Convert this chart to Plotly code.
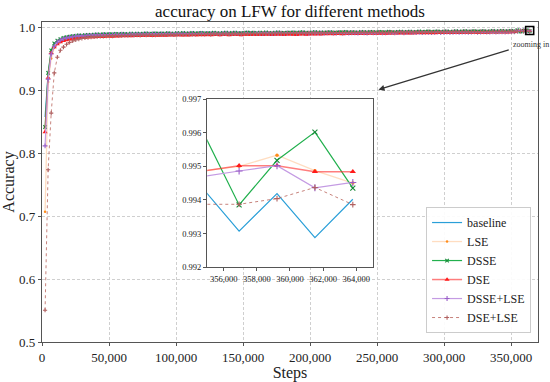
import plotly.graph_objects as go

EVAL_INTERVAL = 2288
steps = [EVAL_INTERVAL * i for i in range(1, 160)]

baseline = [
    0.8580, 0.9270, 0.9615, 0.9722, 0.9776, 0.9808, 0.9829, 0.9843, 0.9851, 0.9860,
    0.9864, 0.9871, 0.9868, 0.9876, 0.9880, 0.9877, 0.9884, 0.9886, 0.9881, 0.9889,
    0.9887, 0.9892, 0.9889, 0.9894, 0.9890, 0.9896, 0.9893, 0.9891, 0.9897, 0.9895,
    0.9899, 0.9894, 0.9898, 0.9902, 0.9896, 0.9900, 0.9903, 0.9897, 0.9901, 0.9899,
    0.9904, 0.9900, 0.9898, 0.9905, 0.9902, 0.9907, 0.9901, 0.9904, 0.9908, 0.9903,
    0.9906, 0.9910, 0.9904, 0.9908, 0.9905, 0.9911, 0.9907, 0.9903, 0.9909, 0.9912,
    0.9906, 0.9910, 0.9913, 0.9908, 0.9905, 0.9911, 0.9914, 0.9909, 0.9912, 0.9907,
    0.9913, 0.9910, 0.9915, 0.9911, 0.9908, 0.9914, 0.9917, 0.9912, 0.9910, 0.9915,
    0.9913, 0.9918, 0.9911, 0.9916, 0.9919, 0.9914, 0.9912, 0.9917, 0.9920, 0.9915,
    0.9918, 0.9913, 0.9919, 0.9921, 0.9916, 0.9914, 0.9920, 0.9918, 0.9922, 0.9917,
    0.9921, 0.9919, 0.9916, 0.9923, 0.9920, 0.9918, 0.9924, 0.9921, 0.9919, 0.9925,
    0.9922, 0.9920, 0.9926, 0.9923, 0.9919, 0.9925, 0.9927, 0.9922, 0.9924, 0.9928,
    0.9923, 0.9926, 0.9929, 0.9924, 0.9927, 0.9930, 0.9925, 0.9928, 0.9931, 0.9926,
    0.9929, 0.9932, 0.9927, 0.9930, 0.9933, 0.9928, 0.9931, 0.9934, 0.9929, 0.9932,
    0.9935, 0.9930, 0.9933, 0.9936, 0.9931, 0.9934, 0.9937, 0.9932, 0.9935, 0.9938,
    0.9933, 0.9936, 0.9939, 0.9937, 0.99440, 0.99307, 0.99419, 0.99288, 0.99402,
]

lse = [
    0.7070, 0.9135, 0.9510, 0.9680, 0.9748, 0.9790, 0.9815, 0.9832, 0.9844, 0.9853,
    0.9860, 0.9866, 0.9871, 0.9869, 0.9876, 0.9880, 0.9878, 0.9883, 0.9886, 0.9882,
    0.9888, 0.9885, 0.9891, 0.9889, 0.9893, 0.9890, 0.9895, 0.9892, 0.9889, 0.9896,
    0.9893, 0.9898, 0.9895, 0.9900, 0.9897, 0.9894, 0.9901, 0.9898, 0.9903, 0.9899,
    0.9902, 0.9906, 0.9900, 0.9904, 0.9901, 0.9907, 0.9903, 0.9909, 0.9905, 0.9902,
    0.9908, 0.9904, 0.9910, 0.9906, 0.9909, 0.9912, 0.9907, 0.9904, 0.9911, 0.9908,
    0.9913, 0.9909, 0.9906, 0.9912, 0.9915, 0.9910, 0.9913, 0.9908, 0.9914, 0.9911,
    0.9916, 0.9912, 0.9909, 0.9915, 0.9913, 0.9917, 0.9911, 0.9916, 0.9914, 0.9918,
    0.9912, 0.9917, 0.9920, 0.9915, 0.9918, 0.9913, 0.9919, 0.9921, 0.9916, 0.9919,
    0.9922, 0.9917, 0.9920, 0.9923, 0.9918, 0.9921, 0.9919, 0.9924, 0.9920, 0.9923,
    0.9918, 0.9925, 0.9922, 0.9920, 0.9926, 0.9923, 0.9921, 0.9927, 0.9924, 0.9922,
    0.9928, 0.9925, 0.9923, 0.9929, 0.9926, 0.9924, 0.9930, 0.9927, 0.9925, 0.9931,
    0.9928, 0.9926, 0.9932, 0.9929, 0.9927, 0.9933, 0.9930, 0.9928, 0.9934, 0.9931,
    0.9929, 0.9935, 0.9932, 0.9930, 0.9936, 0.9933, 0.9931, 0.9937, 0.9934, 0.9932,
    0.9938, 0.9935, 0.9933, 0.9939, 0.9936, 0.9934, 0.9940, 0.9937, 0.9935, 0.9941,
    0.9938, 0.9936, 0.9942, 0.9939, 0.99486, 0.99500, 0.99533, 0.99487, 0.99450,
]

dsse = [
    0.8420, 0.9280, 0.9640, 0.9750, 0.9792, 0.9818, 0.9836, 0.9849, 0.9858, 0.9866,
    0.9871, 0.9877, 0.9874, 0.9882, 0.9886, 0.9883, 0.9890, 0.9893, 0.9888, 0.9895,
    0.9892, 0.9898, 0.9894, 0.9900, 0.9896, 0.9902, 0.9899, 0.9897, 0.9904, 0.9900,
    0.9906, 0.9901, 0.9903, 0.9908, 0.9902, 0.9905, 0.9910, 0.9903, 0.9907, 0.9905,
    0.9911, 0.9906, 0.9904, 0.9912, 0.9908, 0.9915, 0.9907, 0.9910, 0.9916, 0.9909,
    0.9913, 0.9918, 0.9910, 0.9914, 0.9911, 0.9919, 0.9913, 0.9909, 0.9916, 0.9920,
    0.9912, 0.9917, 0.9922, 0.9914, 0.9911, 0.9918, 0.9923, 0.9915, 0.9919, 0.9913,
    0.9920, 0.9916, 0.9924, 0.9918, 0.9914, 0.9921, 0.9926, 0.9917, 0.9915, 0.9922,
    0.9919, 0.9925, 0.9916, 0.9923, 0.9927, 0.9920, 0.9918, 0.9924, 0.9928, 0.9921,
    0.9925, 0.9919, 0.9926, 0.9930, 0.9922, 0.9920, 0.9927, 0.9924, 0.9931, 0.9923,
    0.9928, 0.9925, 0.9921, 0.9932, 0.9927, 0.9924, 0.9933, 0.9928, 0.9925, 0.9934,
    0.9929, 0.9926, 0.9935, 0.9930, 0.9924, 0.9933, 0.9937, 0.9928, 0.9931, 0.9938,
    0.9930, 0.9934, 0.9939, 0.9931, 0.9935, 0.9940, 0.9932, 0.9936, 0.9941, 0.9933,
    0.9937, 0.9942, 0.9934, 0.9938, 0.9943, 0.9935, 0.9939, 0.9944, 0.9936, 0.9940,
    0.9945, 0.9937, 0.9941, 0.9946, 0.9938, 0.9942, 0.9947, 0.9939, 0.9943, 0.9948,
    0.9940, 0.9944, 0.9949, 0.9942, 0.99613, 0.99385, 0.99518, 0.99602, 0.99435,
]

dse = [
    0.8340, 0.9205, 0.9597, 0.9690, 0.9738, 0.9768, 0.9788, 0.9803, 0.9815, 0.9824,
    0.9831, 0.9837, 0.9842, 0.9840, 0.9847, 0.9851, 0.9849, 0.9855, 0.9858, 0.9854,
    0.9860, 0.9863, 0.9859, 0.9865, 0.9862, 0.9868, 0.9864, 0.9870, 0.9867, 0.9872,
    0.9869, 0.9874, 0.9870, 0.9876, 0.9873, 0.9871, 0.9877, 0.9874, 0.9879, 0.9875,
    0.9878, 0.9881, 0.9876, 0.9880, 0.9883, 0.9878, 0.9882, 0.9879, 0.9884, 0.9880,
    0.9883, 0.9886, 0.9881, 0.9885, 0.9882, 0.9887, 0.9884, 0.9880, 0.9886, 0.9889,
    0.9883, 0.9887, 0.9890, 0.9885, 0.9881, 0.9888, 0.9891, 0.9886, 0.9889, 0.9884,
    0.9890, 0.9887, 0.9892, 0.9888, 0.9885, 0.9891, 0.9894, 0.9889, 0.9886, 0.9892,
    0.9895, 0.9890, 0.9887, 0.9893, 0.9896, 0.9891, 0.9894, 0.9897, 0.9892, 0.9899,
    0.9894, 0.9900, 0.9897, 0.9902, 0.9896, 0.9901, 0.9903, 0.9898, 0.9904, 0.9900,
    0.9905, 0.9902, 0.9906, 0.9901, 0.9907, 0.9904, 0.9908, 0.9905, 0.9909, 0.9906,
    0.9910, 0.9907, 0.9911, 0.9908, 0.9912, 0.9909, 0.9913, 0.9910, 0.9914, 0.9911,
    0.9915, 0.9912, 0.9916, 0.9913, 0.9917, 0.9914, 0.9918, 0.9915, 0.9919, 0.9916,
    0.9920, 0.9917, 0.9921, 0.9918, 0.9922, 0.9919, 0.9923, 0.9920, 0.9924, 0.9921,
    0.9925, 0.9922, 0.9926, 0.9923, 0.9927, 0.9924, 0.9928, 0.9925, 0.9929, 0.9926,
    0.9930, 0.9927, 0.9931, 0.9933, 0.99485, 0.99502, 0.99502, 0.99484, 0.99484,
]

dsse_lse = [
    0.8120, 0.9180, 0.9580, 0.9705, 0.9768, 0.9801, 0.9823, 0.9838, 0.9849, 0.9857,
    0.9863, 0.9869, 0.9866, 0.9874, 0.9878, 0.9875, 0.9882, 0.9885, 0.9880, 0.9887,
    0.9884, 0.9890, 0.9887, 0.9892, 0.9888, 0.9894, 0.9891, 0.9889, 0.9895, 0.9892,
    0.9897, 0.9893, 0.9896, 0.9900, 0.9895, 0.9898, 0.9901, 0.9896, 0.9900, 0.9897,
    0.9902, 0.9899, 0.9897, 0.9903, 0.9900, 0.9905, 0.9899, 0.9903, 0.9906, 0.9901,
    0.9905, 0.9908, 0.9902, 0.9906, 0.9903, 0.9909, 0.9905, 0.9902, 0.9907, 0.9910,
    0.9905, 0.9908, 0.9911, 0.9906, 0.9904, 0.9910, 0.9912, 0.9907, 0.9910, 0.9906,
    0.9911, 0.9908, 0.9913, 0.9909, 0.9907, 0.9912, 0.9915, 0.9910, 0.9908, 0.9914,
    0.9911, 0.9916, 0.9910, 0.9914, 0.9917, 0.9912, 0.9910, 0.9915, 0.9918, 0.9913,
    0.9916, 0.9912, 0.9917, 0.9919, 0.9914, 0.9913, 0.9918, 0.9916, 0.9920, 0.9915,
    0.9919, 0.9917, 0.9915, 0.9921, 0.9918, 0.9916, 0.9922, 0.9919, 0.9917, 0.9923,
    0.9920, 0.9918, 0.9924, 0.9921, 0.9917, 0.9923, 0.9925, 0.9920, 0.9922, 0.9926,
    0.9921, 0.9924, 0.9927, 0.9922, 0.9925, 0.9928, 0.9923, 0.9926, 0.9929, 0.9924,
    0.9927, 0.9930, 0.9925, 0.9928, 0.9931, 0.9926, 0.9929, 0.9932, 0.9927, 0.9930,
    0.9933, 0.9928, 0.9931, 0.9934, 0.9929, 0.9932, 0.9935, 0.9930, 0.9933, 0.9936,
    0.9931, 0.9934, 0.9937, 0.9935, 0.99469, 0.99486, 0.99502, 0.99436, 0.99452,
]

dse_lse = [
    0.5505, 0.7740, 0.8640, 0.9280, 0.9530, 0.9640, 0.9690, 0.9735, 0.9765, 0.9788,
    0.9805, 0.9817, 0.9828, 0.9836, 0.9843, 0.9849, 0.9854, 0.9858, 0.9862, 0.9860,
    0.9866, 0.9869, 0.9865, 0.9871, 0.9874, 0.9870, 0.9876, 0.9873, 0.9879, 0.9876,
    0.9881, 0.9878, 0.9883, 0.9880, 0.9885, 0.9882, 0.9879, 0.9886, 0.9883, 0.9888,
    0.9885, 0.9890, 0.9886, 0.9889, 0.9892, 0.9887, 0.9891, 0.9894, 0.9889, 0.9893,
    0.9896, 0.9891, 0.9895, 0.9898, 0.9893, 0.9897, 0.9900, 0.9895, 0.9899, 0.9902,
    0.9897, 0.9901, 0.9903, 0.9899, 0.9902, 0.9905, 0.9900, 0.9904, 0.9907, 0.9902,
    0.9906, 0.9909, 0.9904, 0.9908, 0.9911, 0.9906, 0.9910, 0.9912, 0.9908, 0.9911,
    0.9914, 0.9909, 0.9913, 0.9915, 0.9911, 0.9914, 0.9917, 0.9912, 0.9916, 0.9918,
    0.9914, 0.9917, 0.9920, 0.9915, 0.9919, 0.9921, 0.9917, 0.9920, 0.9922, 0.9918,
    0.9921, 0.9924, 0.9919, 0.9923, 0.9925, 0.9921, 0.9924, 0.9926, 0.9922, 0.9925,
    0.9927, 0.9923, 0.9926, 0.9928, 0.9924, 0.9927, 0.9929, 0.9925, 0.9928, 0.9930,
    0.9926, 0.9929, 0.9931, 0.9927, 0.9930, 0.9932, 0.9928, 0.9931, 0.9933, 0.9929,
    0.9932, 0.9934, 0.9930, 0.9933, 0.9935, 0.9931, 0.9934, 0.9936, 0.9932, 0.9935,
    0.9937, 0.9933, 0.9936, 0.9938, 0.9934, 0.9937, 0.9939, 0.9935, 0.9938, 0.9940,
    0.9936, 0.9939, 0.9941, 0.9938, 0.99387, 0.99387, 0.99404, 0.99437, 0.99386,
]

series_names = ["baseline", "LSE", "DSSE", "DSE", "DSSE+LSE", "DSE+LSE"]
series_values = [baseline, lse, dsse, dse, dsse_lse, dse_lse]

main_x_range = [0, 370000]
main_y_range = [0.5, 1.009]
zoom_x_range = [355000, 365000]
zoom_y_range = [0.992, 0.997]
main_x_ticks = [0, 50000, 100000, 150000, 200000, 250000, 300000, 350000]
main_y_ticks = [0.5, 0.6, 0.7, 0.8, 0.9, 1.0]
zoom_x_ticks = [356000, 358000, 360000, 362000, 364000]
zoom_y_ticks = [0.992, 0.993, 0.994, 0.995, 0.996, 0.997]
zoom_box_y = 0.9955
arrow_head = (251000, 0.9014)
arrow_tail = (349300, 0.9655)
label_pos = (349800, 0.9735)

# (line color, width, dash, marker symbol, marker color, main size, inset size)
styles = {
    "baseline": ("#2a9fd8", 1.2, "solid", None, None, 0, 0),
    "LSE": ("rgba(255,170,100,0.4)", 1.3, "solid", "circle", "#ff8c1a", 2.5, 3.5),
    "DSSE": ("#22b04e", 1.2, "solid", "x-thin", "#178a38", 3.5, 5),
    "DSE": ("rgba(255,40,40,0.6)", 1.5, "solid", "triangle-up", "#ff1a1a", 4.5, 5.5),
    "DSSE+LSE": ("#c49be3", 1.2, "solid", "cross-thin", "#9a5fc8", 3.5, 5),
    "DSE+LSE": ("rgba(180,90,80,0.75)", 1.0, "dot", "cross-thin", "#b06060", 3, 4),
}


def trace_kwargs(name, inset):
    lc, lw, dash, sym, mc, ms_main, ms_inset = styles[name]
    kw = dict(line=dict(color=lc, width=lw, dash=dash))
    if sym is None:
        kw["mode"] = "lines"
        return kw
    kw["mode"] = "lines+markers"
    size = ms_inset if inset else ms_main
    if sym.endswith("-thin"):
        kw["marker"] = dict(symbol=sym, size=size, color=mc, line=dict(color=mc, width=1.1))
    else:
        kw["marker"] = dict(symbol=sym, size=size, color=mc, line=dict(width=0))
    return kw


SERIF = "Liberation Serif, Times New Roman, serif"

fig = go.Figure()
for name, vals in zip(series_names, series_values):
    fig.add_trace(go.Scatter(x=steps, y=vals, name=name, xaxis="x", yaxis="y",
                             **trace_kwargs(name, False)))
for name, vals in zip(series_names, series_values):
    fig.add_trace(go.Scatter(x=steps, y=vals, name=name, xaxis="x2", yaxis="y2",
                             showlegend=False, **trace_kwargs(name, True)))

fig.add_trace(go.Scatter(x=[steps[-1]], y=[zoom_box_y], mode="markers", showlegend=False,
                         marker=dict(symbol="square-open", size=8, color="black",
                                     line=dict(color="black", width=1.6)),
                         xaxis="x", yaxis="y"))

grid = dict(showgrid=True, gridcolor="#cfcfcf", griddash="3px,2px", gridwidth=0.8)
frame = dict(showline=True, linecolor="#555555", linewidth=1.4, mirror=True,
             ticks="outside", ticklen=3, tickcolor="#555555", zeroline=False, automargin=False)

fig.update_layout(
    width=550, height=382,
    margin=dict(l=42, r=12, t=22, b=40, autoexpand=False),
    paper_bgcolor="white", plot_bgcolor="white",
    font=dict(family=SERIF, size=13, color="#222"),
    title=dict(text="accuracy on LFW for different methods", x=0.5, xref="paper",
               y=0.97, yanchor="middle", font=dict(family=SERIF, size=17, color="#111")),
    xaxis=dict(domain=[0, 1], range=main_x_range, tickvals=main_x_ticks, tickformat=",d",
               title=dict(text="Steps", font=dict(size=16), standoff=2), **grid, **frame),
    yaxis=dict(domain=[0, 1], range=main_y_range, tickvals=main_y_ticks, tickformat=".1f",
               title=dict(text="Accuracy", font=dict(size=16), standoff=2), **grid, **frame),
    xaxis2=dict(domain=[0.333, 0.667], anchor="y2", range=zoom_x_range, tickvals=zoom_x_ticks,
                tickformat=",d", tickfont=dict(size=8.5), showgrid=False, **frame),
    yaxis2=dict(domain=[0.234, 0.759], anchor="x2", range=zoom_y_range, tickvals=zoom_y_ticks,
                tickformat=".3f", tickfont=dict(size=8.5), showgrid=False, **frame),
    legend=dict(x=0.986, y=0.028, xanchor="right", yanchor="bottom",
                bgcolor="rgba(255,255,255,0.9)", bordercolor="#cccccc", borderwidth=1,
                font=dict(family=SERIF, size=12), itemwidth=30, tracegroupgap=0),
    shapes=[dict(type="rect", xref="x2 domain", yref="y2 domain", x0=0, x1=1, y0=0, y1=1,
                 fillcolor="white", line=dict(width=0), layer="below")],
    annotations=[
        dict(x=arrow_head[0], y=arrow_head[1], ax=arrow_tail[0], ay=arrow_tail[1],
             xref="x", yref="y", axref="x", ayref="y", text="", showarrow=True,
             arrowhead=2, arrowsize=1, arrowwidth=1.2, arrowcolor="#333"),
        dict(x=label_pos[0], y=label_pos[1], xref="x", yref="y", text="zooming in",
             showarrow=False, xanchor="left", yanchor="middle",
             font=dict(family=SERIF, size=8, color="#333")),
    ],
)

fig.write_html("out.html", config={"displayModeBar": False},
               post_script="document.body.style.margin='0';")
